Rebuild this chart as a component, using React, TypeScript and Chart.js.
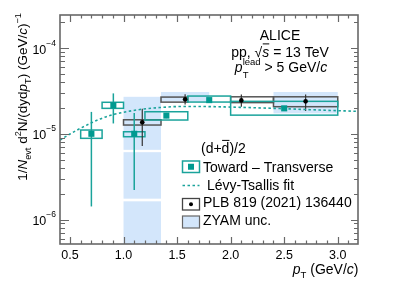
import React, { useEffect, useRef } from 'react';
import { Chart, registerables } from 'chart.js';
Chart.register(...registerables);

const FONT = '"Liberation Sans", Arial, Helvetica, sans-serif';
const TEAL = '#1aa39b';
const TEAL_MARK = '#009a90';
const ZYAM_FILL = '#d3e6fb';
const FRAME = '#686868';

// axis ranges
const X_MIN = 0.407;
const X_MAX = 3.189;
const Y_MIN = 5.18e-7;
const Y_MAX = 2.43e-4;

// tick labels
const xMajorTicks = [0.5, 1.0, 1.5, 2.0, 2.5, 3.0];
const xTickLabels = ['0.5', '1.0', '1.5', '2.0', '2.5', '3.0'];
const yMajorExps = [-6, -5, -4];
const yTickLabels = ['\u22126', '\u22125', '\u22124'];

// Toward – Transverse (d+dbar)/2
const ttX = [0.7, 0.905, 1.1, 1.4, 1.8, 2.5];
const ttY = [1.0e-5, 2.15e-5, 1.0e-5, 1.63e-5, 2.47e-5, 1.98e-5];
const ttStatLo = [1.42e-6, 1.32e-5, 2.21e-6, 1.52e-5, 2.33e-5, 1.86e-5];
const ttStatHi = [1.8e-5, 2.96e-5, 1.75e-5, 1.75e-5, 2.62e-5, 2.1e-5];
const ttBoxXLo = [0.6, 0.8, 1.0, 1.2, 1.6, 2.0];
const ttBoxXHi = [0.8, 1.0, 1.2, 1.6, 2.0, 3.0];
const ttBoxYLo = [8.85e-6, 1.98e-5, 9.24e-6, 1.447e-5, 2.345e-5, 1.65e-5];
const ttBoxYHi = [1.106e-5, 2.33e-5, 1.056e-5, 1.808e-5, 2.755e-5, 2.39e-5];

// PLB 819 (2021) 136440
const plbX = [1.175, 1.575, 2.1, 2.7];
const plbY = [1.36e-5, 2.52e-5, 2.45e-5, 2.39e-5];
const plbStatLo = [7.2e-6, 2.2e-5, 2.07e-5, 1.84e-5];
const plbStatHi = [1.96e-5, 2.9e-5, 2.88e-5, 2.88e-5];
const plbBoxXLo = [1.0, 1.35, 2.0, 2.4];
const plbBoxXHi = [1.35, 1.6, 2.4, 3.0];
const plbBoxYLo = [1.265e-5, 2.34e-5, 2.31e-5, 2.07e-5];
const plbBoxYHi = [1.457e-5, 2.68e-5, 2.7e-5, 2.7e-5];

// ZYAM uncertainty bands
const zyamXLo = [1.0, 1.0, 1.0, 1.35, 2.4];
const zyamXHi = [1.35, 1.35, 1.35, 1.8, 3.0];
const zyamYLo = [6.5e-6, 1.75e-6, 1.0e-7, 2.38e-5, 1.73e-5];
const zyamYHi = [2.7e-5, 6.1e-6, 1.63e-6, 3.07e-5, 3.07e-5];

// Lévy-Tsallis fit
const fitX = [0.407, 0.5, 0.593, 0.687, 0.78, 0.873, 0.966, 1.153, 1.34, 1.526, 1.713, 2.086, 2.459, 2.832, 3.189];
const fitY = [8.46e-6, 9.93e-6, 1.151e-5, 1.317e-5, 1.486e-5, 1.633e-5, 1.746e-5, 1.918e-5, 2.024e-5, 2.079e-5, 2.079e-5, 2.035e-5, 1.97e-5, 1.892e-5, 1.827e-5];

type Seg = { t: string; it?: boolean; pos?: 'sup' | 'sub'; stack?: string; over?: boolean; dy?: number; stackDy?: number };

function segFont(size: number, it?: boolean) {
  return `${it ? 'italic ' : ''}${size}px ${FONT}`;
}
function segW(ctx: CanvasRenderingContext2D, s: Seg, size: number) {
  const sz = s.pos ? size * 0.68 : size;
  ctx.font = segFont(sz, false);
  const sw = s.stack ? ctx.measureText(s.stack).width : 0;
  ctx.font = segFont(sz, s.it);
  return Math.max(ctx.measureText(s.t).width, sw);
}
function drawRich(ctx: CanvasRenderingContext2D, segs: Seg[], x: number, y: number, size: number, align: 'left' | 'center' | 'right') {
  let total = 0;
  for (const s of segs) total += segW(ctx, s, size);
  let cx = align === 'left' ? x : align === 'right' ? x - total : x - total / 2;
  ctx.textAlign = 'left';
  ctx.textBaseline = 'alphabetic';
  for (const s of segs) {
    const sz = s.pos ? size * 0.68 : size;
    const dy = s.dy !== undefined ? s.dy : s.pos === 'sup' ? -size * 0.42 : s.pos === 'sub' ? size * 0.28 : 0;
    const w = segW(ctx, s, size);
    ctx.font = segFont(sz, s.it);
    ctx.fillText(s.t, cx, y + dy);
    if (s.over) {
      const tw = ctx.measureText(s.t).width;
      ctx.save();
      ctx.strokeStyle = ctx.fillStyle as string;
      ctx.lineWidth = 1;
      ctx.beginPath();
      ctx.moveTo(cx + 0.5, y + dy - sz * 0.9);
      ctx.lineTo(cx + tw, y + dy - sz * 0.9);
      ctx.stroke();
      ctx.restore();
    }
    if (s.stack) {
      ctx.font = segFont(sz, false);
      ctx.fillText(s.stack, cx, y + (s.stackDy !== undefined ? s.stackDy : -size * 0.45));
    }
    cx += w;
  }
}

const boxesPlugin = {
  id: 'boxes',
  beforeDatasetsDraw(chart: any) {
    const { ctx, chartArea: a, scales } = chart;
    const xs = scales.x;
    const ys = scales.y;
    const px = (v: number) => xs.getPixelForValue(v);
    const py = (v: number) => ys.getPixelForValue(v);
    ctx.save();
    ctx.beginPath();
    ctx.rect(a.left, a.top, a.right - a.left, a.bottom - a.top);
    ctx.clip();
    // ZYAM bands
    ctx.fillStyle = ZYAM_FILL;
    for (let i = 0; i < zyamXLo.length; i++) {
      const x0 = px(zyamXLo[i]);
      const x1 = px(zyamXHi[i]);
      const y0 = py(zyamYHi[i]);
      const y1 = py(zyamYLo[i]);
      ctx.fillRect(x0, y0, x1 - x0, y1 - y0);
    }
    // PLB boxes
    ctx.strokeStyle = '#555555';
    ctx.lineWidth = 1.5;
    for (let i = 0; i < plbX.length; i++) {
      const x0 = px(plbBoxXLo[i]);
      const x1 = px(plbBoxXHi[i]);
      const y0 = py(plbBoxYHi[i]);
      const y1 = py(plbBoxYLo[i]);
      ctx.strokeRect(x0, y0, x1 - x0, y1 - y0);
    }
    // TT boxes
    ctx.strokeStyle = TEAL;
    ctx.lineWidth = 1.5;
    for (let i = 0; i < ttX.length; i++) {
      const x0 = px(ttBoxXLo[i]);
      const x1 = px(ttBoxXHi[i]);
      const y0 = py(ttBoxYHi[i]);
      const y1 = py(ttBoxYLo[i]);
      ctx.strokeRect(x0, y0, x1 - x0, y1 - y0);
    }
    // TT stat errors
    ctx.strokeStyle = TEAL;
    ctx.lineWidth = 1.5;
    for (let i = 0; i < ttX.length; i++) {
      ctx.beginPath();
      ctx.moveTo(px(ttX[i]), py(ttStatHi[i]));
      ctx.lineTo(px(ttX[i]), py(ttStatLo[i]));
      ctx.stroke();
    }
    // PLB stat errors
    ctx.strokeStyle = '#333333';
    ctx.lineWidth = 1.2;
    for (let i = 0; i < plbX.length; i++) {
      ctx.beginPath();
      ctx.moveTo(px(plbX[i]), py(plbStatHi[i]));
      ctx.lineTo(px(plbX[i]), py(plbStatLo[i]));
      ctx.stroke();
    }
    ctx.restore();
  },
};

const overlayPlugin = {
  id: 'overlay',
  afterDraw(chart: any) {
    const { ctx, chartArea: a, scales } = chart;
    const xs = scales.x;
    const ys = scales.y;
    ctx.save();
    // frame
    ctx.strokeStyle = FRAME;
    ctx.lineWidth = 1.6;
    ctx.strokeRect(a.left, a.top, a.right - a.left, a.bottom - a.top);
    // x ticks
    ctx.lineWidth = 1.2;
    ctx.beginPath();
    for (let k = 5; k <= 31; k++) {
      const v = k / 10;
      if (v < X_MIN || v > X_MAX) continue;
      const p = Math.round(xs.getPixelForValue(v)) + 0.5;
      const major = k % 5 === 0;
      const len = major ? 7 : 3.5;
      ctx.moveTo(p, a.bottom);
      ctx.lineTo(p, a.bottom - len);
      ctx.moveTo(p, a.top);
      ctx.lineTo(p, a.top + len);
    }
    // y ticks
    for (let e = -7; e <= -4; e++) {
      for (let m = 1; m <= 9; m++) {
        const v = m * Math.pow(10, e);
        if (v < Y_MIN || v > Y_MAX) continue;
        const p = Math.round(ys.getPixelForValue(v)) + 0.5;
        const major = m === 1;
        ctx.moveTo(a.left, p);
        ctx.lineTo(a.left + (major ? 9 : 5), p);
        ctx.moveTo(a.right, p);
        ctx.lineTo(a.right - (major ? 7 : 4), p);
      }
    }
    ctx.stroke();

    ctx.fillStyle = '#000';
    // x tick labels
    ctx.font = `12.5px ${FONT}`;
    ctx.textAlign = 'center';
    ctx.textBaseline = 'alphabetic';
    for (let i = 0; i < xMajorTicks.length; i++) {
      ctx.fillText(xTickLabels[i], xs.getPixelForValue(xMajorTicks[i]), 258.5);
    }
    // y tick labels
    for (let i = 0; i < yMajorExps.length; i++) {
      const p = ys.getPixelForValue(Math.pow(10, yMajorExps[i]));
      drawRich(ctx, [{ t: '10' }, { t: yTickLabels[i], pos: 'sup', dy: -8 }], 56, p + 5.5, 12.5, 'right');
    }
    // axis titles
    drawRich(ctx, [{ t: 'p', it: true }, { t: 'T', pos: 'sub', dy: 3.5 }, { t: ' (GeV/' }, { t: 'c', it: true }, { t: ')' }], 358.5, 274, 14, 'right');
    ctx.save();
    ctx.translate(27, 97);
    ctx.rotate(-Math.PI / 2);
    drawRich(ctx, [
      { t: '1/' }, { t: 'N', it: true }, { t: 'evt', pos: 'sub' }, { t: ' d' }, { t: '2', pos: 'sup' },
      { t: 'N/(dyd' }, { t: 'p', it: true }, { t: 'T', pos: 'sub' }, { t: ') (GeV/' }, { t: 'c', it: true },
      { t: ')' }, { t: '\u22121', pos: 'sup' },
    ], 0, 0, 13.5, 'center');
    ctx.restore();

    // ALICE texts
    ctx.font = `14px ${FONT}`;
    drawRich(ctx, [{ t: 'ALICE' }], 280, 40, 14, 'center');
    drawRich(ctx, [{ t: 'pp, \u221A' }, { t: 's', it: true, over: true }, { t: ' = 13 TeV' }], 280, 56.5, 14, 'center');
    drawRich(ctx, [{ t: 'p', it: true }, { t: 'T', pos: 'sub', stack: 'lead', dy: 6.3, stackDy: -6.5 }, { t: ' > 5 GeV/' }, { t: 'c', it: true }], 281, 71.7, 14, 'center');

    // legend
    drawRich(ctx, [{ t: '(d+' }, { t: 'd', over: true }, { t: ')/2' }], 201, 153, 14, 'left');
    const lx0 = 182.5;
    const lx1 = 199.5;
    // teal marker
    ctx.strokeStyle = TEAL;
    ctx.lineWidth = 1.5;
    ctx.strokeRect(lx0, 161, lx1 - lx0, 11.5);
    ctx.fillStyle = TEAL_MARK;
    ctx.fillRect((lx0 + lx1) / 2 - 3, 166.75 - 3, 6, 6);
    // dotted
    ctx.setLineDash([2.5, 2.5]);
    ctx.lineWidth = 1.5;
    ctx.beginPath();
    ctx.moveTo(lx0, 185.5);
    ctx.lineTo(lx1, 185.5);
    ctx.stroke();
    ctx.setLineDash([]);
    // black marker
    ctx.strokeStyle = '#444';
    ctx.lineWidth = 1.3;
    ctx.strokeRect(lx0, 198.5, lx1 - lx0, 11.5);
    ctx.fillStyle = '#000';
    ctx.beginPath();
    ctx.arc((lx0 + lx1) / 2, 204.25, 2, 0, Math.PI * 2);
    ctx.fill();
    // zyam
    ctx.fillStyle = ZYAM_FILL;
    ctx.fillRect(lx0, 216, lx1 - lx0, 12);
    ctx.strokeStyle = '#666';
    ctx.lineWidth = 1.2;
    ctx.strokeRect(lx0, 216, lx1 - lx0, 12);

    ctx.fillStyle = '#000';
    drawRich(ctx, [{ t: 'Toward \u2013 Transverse' }], 203, 171.7, 14, 'left');
    drawRich(ctx, [{ t: ' L\u00E9vy-Tsallis fit' }], 203, 189.7, 14, 'left');
    drawRich(ctx, [{ t: 'PLB 819 (2021) 136440' }], 203, 207.3, 14, 'left');
    drawRich(ctx, [{ t: 'ZYAM unc.' }], 203, 225, 14, 'left');
    ctx.restore();
  },
};

export default function App() {
  const ref = useRef<HTMLCanvasElement>(null);
  useEffect(() => {
    const canvas = ref.current;
    if (!canvas) return;
    const chart = new Chart(canvas, {
      type: 'scatter',
      data: {
        datasets: [
          {
            type: 'line',
            label: 'Lévy-Tsallis fit',
            data: fitX.map((x, i) => ({ x, y: fitY[i] })),
            borderColor: TEAL,
            borderWidth: 1.6,
            borderDash: [2.5, 2.5],
            pointRadius: 0,
            fill: false,
            cubicInterpolationMode: 'monotone',
            order: 3,
          } as any,
          {
            label: 'Toward – Transverse',
            data: ttX.map((x, i) => ({ x, y: ttY[i] })),
            pointStyle: 'rect',
            pointRadius: 4.3,
            backgroundColor: TEAL_MARK,
            borderWidth: 0,
            order: 2,
          },
          {
            label: 'PLB 819 (2021) 136440',
            data: plbX.map((x, i) => ({ x, y: plbY[i] })),
            pointStyle: 'circle',
            pointRadius: 2.3,
            backgroundColor: '#000',
            borderWidth: 0,
            order: 1,
          },
        ],
      },
      options: {
        responsive: false,
        animation: false,
        layout: { padding: { left: 60, right: 41, top: 15, bottom: 44 } },
        plugins: { legend: { display: false }, tooltip: { enabled: false } },
        scales: {
          x: { type: 'linear', min: X_MIN, max: X_MAX, display: false },
          y: { type: 'logarithmic', min: Y_MIN, max: Y_MAX, display: false },
        },
      },
      plugins: [boxesPlugin, overlayPlugin],
    });
    return () => chart.destroy();
  }, []);
  return (
    <div style={{ position: 'fixed', left: 0, top: 0, width: 399, height: 288, background: '#fff' }}>
      <canvas ref={ref} width={399} height={288} style={{ width: 399, height: 288, display: 'block' }} />
    </div>
  );
}
